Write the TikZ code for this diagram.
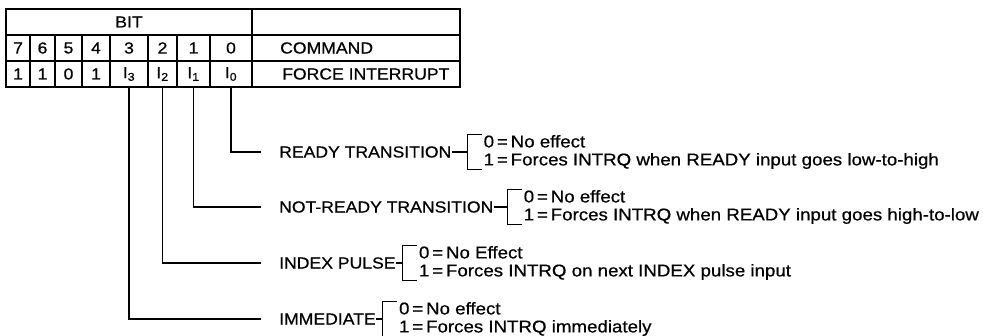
\documentclass[tikz,border=0pt]{standalone}
\usepackage{fontspec}
\setmainfont{Liberation Sans}[FakeStretch=1.1, FakeBold=0.6]
\usetikzlibrary{positioning}

\begin{document}
\begin{tikzpicture}[
    x=1pt, y=-1pt,
    font=\fontsize{16}{18}\selectfont,
    cell/.style={draw, line width=1.2pt, minimum height=26pt, inner sep=0pt},
    lbl/.style={anchor=west, inner sep=0pt},
    opt/.style={align=left, inner sep=0pt, font=\fontsize{17}{18}\selectfont},
    wire/.style={line width=1.2pt}
]

\useasboundingbox (0,0) rectangle (983,336);

\node[cell, minimum width=246pt] (bit) at (129,22) {BIT};
\node[cell, minimum width=208pt] (blank) at (356,22) {};

\node[cell, minimum width=24pt] (c7) at (18,48) {7};
\node[cell, minimum width=25pt] (c6) at (42.5,48) {6};
\node[cell, minimum width=27pt] (c5) at (68.5,48) {5};
\node[cell, minimum width=28pt] (c4) at (96,48) {4};
\node[cell, minimum width=38pt] (c3) at (129,48) {3};
\node[cell, minimum width=29pt] (c2) at (162.5,48) {2};
\node[cell, minimum width=33pt] (c1) at (193.5,48) {1};
\node[cell, minimum width=42pt] (c0) at (231,48) {0};
\node[cell, minimum width=208pt] (cmd) at (356,48) {};
\node[lbl] (cmdtext) at (280,48) {COMMAND};

\node[cell, minimum width=24pt] (f7) at (18,74) {1};
\node[cell, minimum width=25pt] (f6) at (42.5,74) {1};
\node[cell, minimum width=27pt] (f5) at (68.5,74) {0};
\node[cell, minimum width=28pt] (f4) at (96,74) {1};
\node[cell, minimum width=38pt] (i3) at (129,74) {I\textsubscript{3}};
\node[cell, minimum width=29pt] (i2) at (162.5,74) {I\textsubscript{2}};
\node[cell, minimum width=33pt] (i1) at (193.5,74) {I\textsubscript{1}};
\node[cell, minimum width=42pt] (i0) at (231,74) {I\textsubscript{0}};
\node[cell, minimum width=208pt] (force) at (356,74) {};
\node[lbl] (forcetext) at (282,74) {FORCE INTERRUPT};

\node[lbl] (ready) at (279,152) {READY TRANSITION};
\node[lbl] (notready) at (279,207) {NOT-READY TRANSITION};
\node[lbl] (index) at (279,263) {INDEX PULSE};
\node[lbl] (immed) at (279,319) {IMMEDIATE};

\node[opt, right=32pt of ready] (readyopt) {0\,=\,No effect\\1\,=\,Forces INTRQ when READY input goes low-to-high};
\node[opt, right=30pt of notready] (notreadyopt) {0\,=\,No effect\\1\,=\,Forces INTRQ when READY input goes high-to-low};
\node[opt, right=23pt of index] (indexopt) {0\,=\,No Effect\\1\,=\,Forces INTRQ on next INDEX pulse input};
\node[opt, right=23pt of immed] (immedopt) {0\,=\,No effect\\1\,=\,Forces INTRQ immediately};

\draw[wire] (i0.south) |- ([xshift=-18pt]ready.west);
\draw[wire] (i1.south) |- ([xshift=-18pt]notready.west);
\draw[wire] (i2.south) |- ([xshift=-18pt]index.west);
\draw[wire] (i3.south) |- ([xshift=-18pt]immed.west);

\draw[wire] (ready.east) -- ([xshift=-16pt]readyopt.west);
\draw[wire] (notready.east) -- ([xshift=-16pt]notreadyopt.west);
\draw[wire] (index.east) -- ([xshift=-16pt]indexopt.west);
\draw[wire] (immed.east) -- ([xshift=-16pt]immedopt.west);

\draw[wire] ([xshift=-2pt]readyopt.north west) -- ++(-14,0) |- ([xshift=-2pt]readyopt.south west);
\draw[wire] ([xshift=-2pt]notreadyopt.north west) -- ++(-14,0) |- ([xshift=-2pt]notreadyopt.south west);
\draw[wire] ([xshift=-2pt]indexopt.north west) -- ++(-14,0) |- ([xshift=-2pt]indexopt.south west);
\draw[wire] ([xshift=-2pt]immedopt.north west) -- ++(-14,0) |- ([xshift=-2pt]immedopt.south west);

\end{tikzpicture}
\end{document}
